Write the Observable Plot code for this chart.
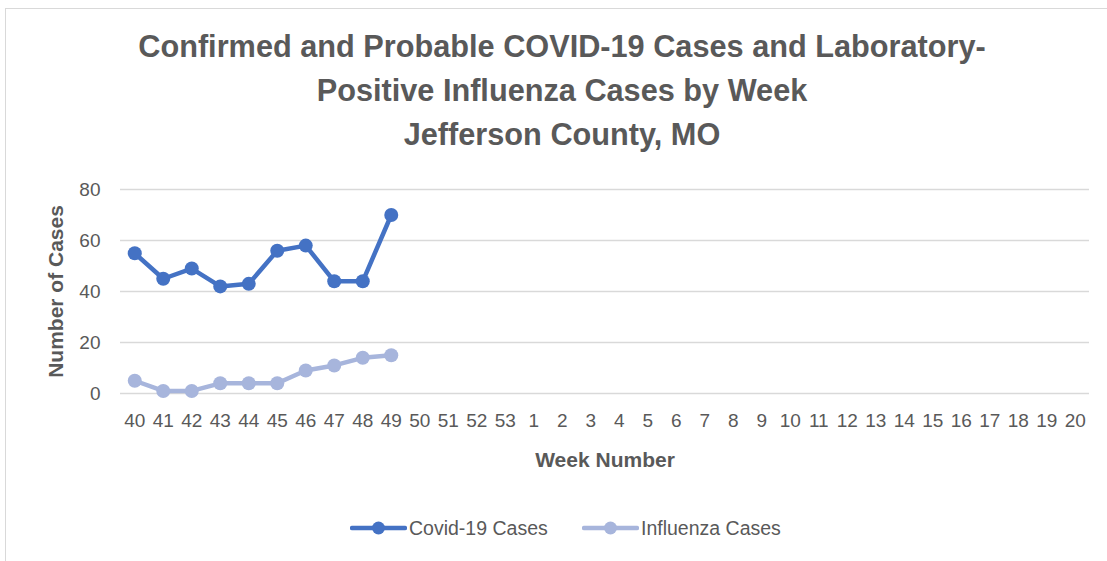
<!DOCTYPE html>
<html>
<head>
<meta charset="utf-8">
<script src="https://cdn.jsdelivr.net/npm/d3@7"></script>
<script src="https://cdn.jsdelivr.net/npm/@observablehq/plot@0.6"></script>
<style>
  html, body { margin: 0; padding: 0; background: #fff; overflow: hidden; }
  body { width: 1107px; height: 561px; position: relative; font-family: "Liberation Sans", Arial, sans-serif; color: #595959; }
  #frame { position: absolute; left: 5px; top: 8px; width: 1120px; height: 570px; border: 1px solid #d9d9d9; box-sizing: border-box; }
  #chart { position: absolute; left: 0; top: 0; }
  #title { position: absolute; left: 0; width: 1124px; top: 25px; text-align: center; font-weight: bold; font-size: 30.7px; line-height: 44px; color: #595959; }
  #legend { position: absolute; top: 515px; left: 0; width: 1107px; height: 26px; font-size: 19.5px; color: #595959; }
  .li { position: absolute; display: flex; align-items: center; }
  g[aria-label="y-axis label"] text, g[aria-label="x-axis label"] text { font-weight: bold; font-size: 21px; fill: #595959; }
</style>
</head>
<body>
<div id="frame"></div>
<div id="chart"></div>
<div id="title"></div>
<div id="legend"></div>
<script>
const titleLines = ["Confirmed and Probable COVID-19 Cases and Laboratory-", "Positive Influenza Cases by Week", "Jefferson County, MO"];
const weeks = ["40","41","42","43","44","45","46","47","48","49","50","51","52","53","1","2","3","4","5","6","7","8","9","10","11","12","13","14","15","16","17","18","19","20"];
const dataWeeks = ["40","41","42","43","44","45","46","47","48","49"];
const covidCases = [55, 45, 49, 42, 43, 56, 58, 44, 44, 70];
const fluCases = [5, 1, 1, 4, 4, 4, 9, 11, 14, 15];
const yTicks = [0, 20, 40, 60, 80];
const seriesNames = ["Covid-19 Cases", "Influenza Cases"];
const seriesColors = ["#4472C4", "#A7B5DC"];

const rows = [];
dataWeeks.forEach((w, i) => {
  rows.push({week: w, cases: covidCases[i], series: seriesNames[0]});
  rows.push({week: w, cases: fluCases[i], series: seriesNames[1]});
});

document.getElementById("title").innerHTML = titleLines.map(t => `<div>${t}</div>`).join("");

const chart = Plot.plot({
  width: 1107,
  height: 561,
  marginLeft: 120,
  marginRight: 18,
  marginTop: 189,
  marginBottom: 168,
  style: {fontFamily: '"Liberation Sans", Arial, sans-serif', fontSize: "19px", color: "#595959", background: "transparent", overflow: "visible"},
  x: {type: "point", domain: weeks, padding: 0.5, align: 0.5, round: false},
  y: {domain: [0, 80]},
  color: {domain: seriesNames, range: seriesColors},
  marks: [
    Plot.gridY(yTicks, {stroke: "#d9d9d9", strokeOpacity: 1, strokeWidth: 1.5}),
    Plot.axisY(yTicks, {tickSize: 0, tickPadding: 20, label: "Number of Cases", labelAnchor: "center", labelArrow: "none", labelOffset: 72, fill: "#595959"}),
    Plot.axisX({tickSize: 0, tickPadding: 20, label: "Week Number", labelAnchor: "center", labelArrow: "none", labelOffset: 73, fill: "#595959"}),
    Plot.line(rows, {x: "week", y: "cases", z: "series", stroke: "series", strokeWidth: 4.5, strokeLinejoin: "round"}),
    Plot.dot(rows, {x: "week", y: "cases", fill: "series", r: 7})
  ]
});
document.getElementById("chart").appendChild(chart);

const legendX = [350, 582];
const legend = document.getElementById("legend");
seriesNames.forEach((name, i) => {
  const d = document.createElement("div");
  d.className = "li";
  d.style.left = legendX[i] + "px";
  d.innerHTML = `<svg width="57" height="26"><line x1="2" x2="55" y1="13" y2="13" stroke="${seriesColors[i]}" stroke-width="4.5" stroke-linecap="round"/><circle cx="28.5" cy="13" r="6.5" fill="${seriesColors[i]}"/></svg><span style="margin-left:2px">${name}</span>`;
  legend.appendChild(d);
});
</script>
</body>
</html>
